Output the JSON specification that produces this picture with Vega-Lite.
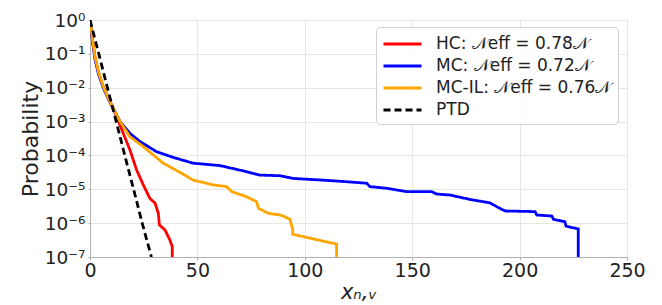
{
  "$schema": "https://vega.github.io/schema/vega-lite/v6.json",
  "width": 537,
  "height": 237,
  "autosize": {"type": "none"},
  "padding": {"left": 90, "top": 20, "right": 35, "bottom": 48},
  "background": "white",
  "config": {
    "font": "DejaVu Sans",
    "view": {"stroke": "#b0b0b0", "strokeWidth": 1}
  },
  "data": {"values": [
    {"s":"HC","i":0,"x":0,"p":1},
    {"s":"HC","i":1,"x":1.2,"p":0.25},
    {"s":"HC","i":2,"x":2.3,"p":0.08},
    {"s":"HC","i":3,"x":3.9,"p":0.029},
    {"s":"HC","i":4,"x":6.2,"p":0.0105},
    {"s":"HC","i":5,"x":8.5,"p":0.0049},
    {"s":"HC","i":6,"x":10.9,"p":0.00245},
    {"s":"HC","i":7,"x":13,"p":0.00112},
    {"s":"HC","i":8,"x":15.5,"p":0.000447},
    {"s":"HC","i":9,"x":18.6,"p":0.000145},
    {"s":"HC","i":10,"x":21.7,"p":0.0000372},
    {"s":"HC","i":11,"x":24.8,"p":0.0000135},
    {"s":"HC","i":12,"x":27.9,"p":0.00000537},
    {"s":"HC","i":13,"x":30.3,"p":0.00000389},
    {"s":"HC","i":14,"x":31.8,"p":0.00000195},
    {"s":"HC","i":15,"x":32.3,"p":0.000000891},
    {"s":"HC","i":16,"x":34.9,"p":0.000000631},
    {"s":"HC","i":17,"x":37.2,"p":0.000000316},
    {"s":"HC","i":18,"x":38.3,"p":0.0000002},
    {"s":"HC","i":19,"x":38.3,"p":0.0000001},
    {"s":"MC","i":0,"x":0,"p":1},
    {"s":"MC","i":1,"x":1.2,"p":0.22},
    {"s":"MC","i":2,"x":2.3,"p":0.071},
    {"s":"MC","i":3,"x":3.9,"p":0.026},
    {"s":"MC","i":4,"x":6.2,"p":0.0098},
    {"s":"MC","i":5,"x":8.5,"p":0.0047},
    {"s":"MC","i":6,"x":10.9,"p":0.0024},
    {"s":"MC","i":7,"x":14,"p":0.001},
    {"s":"MC","i":8,"x":18.6,"p":0.000447},
    {"s":"MC","i":9,"x":23.3,"p":0.000257},
    {"s":"MC","i":10,"x":31,"p":0.000129},
    {"s":"MC","i":11,"x":38.8,"p":0.0000871},
    {"s":"MC","i":12,"x":48.1,"p":0.0000589},
    {"s":"MC","i":13,"x":60.5,"p":0.0000501},
    {"s":"MC","i":14,"x":72.9,"p":0.0000331},
    {"s":"MC","i":15,"x":79.1,"p":0.0000263},
    {"s":"MC","i":16,"x":88.5,"p":0.0000251},
    {"s":"MC","i":17,"x":94.6,"p":0.0000209},
    {"s":"MC","i":18,"x":108.6,"p":0.0000186},
    {"s":"MC","i":19,"x":117.9,"p":0.000017},
    {"s":"MC","i":20,"x":128.8,"p":0.0000151},
    {"s":"MC","i":21,"x":130.3,"p":0.000012},
    {"s":"MC","i":22,"x":138.1,"p":0.0000107},
    {"s":"MC","i":23,"x":147.4,"p":0.00000851},
    {"s":"MC","i":24,"x":159,"p":0.00000851},
    {"s":"MC","i":25,"x":161.4,"p":0.00000724},
    {"s":"MC","i":26,"x":167.6,"p":0.00000676},
    {"s":"MC","i":27,"x":176.9,"p":0.00000501},
    {"s":"MC","i":28,"x":186.2,"p":0.00000398},
    {"s":"MC","i":29,"x":190.1,"p":0.00000288},
    {"s":"MC","i":30,"x":193.2,"p":0.00000229},
    {"s":"MC","i":31,"x":207.2,"p":0.00000219},
    {"s":"MC","i":32,"x":208,"p":0.00000174},
    {"s":"MC","i":33,"x":215,"p":0.00000162},
    {"s":"MC","i":34,"x":215.8,"p":0.00000129},
    {"s":"MC","i":35,"x":221.1,"p":0.0000011},
    {"s":"MC","i":36,"x":221.6,"p":0.000000813},
    {"s":"MC","i":37,"x":227.3,"p":0.000000676},
    {"s":"MC","i":38,"x":227.3,"p":0.0000001},
    {"s":"MC-IL","i":0,"x":0,"p":1},
    {"s":"MC-IL","i":1,"x":1.2,"p":0.257},
    {"s":"MC-IL","i":2,"x":2.3,"p":0.0832},
    {"s":"MC-IL","i":3,"x":3.9,"p":0.0295},
    {"s":"MC-IL","i":4,"x":6.2,"p":0.0107},
    {"s":"MC-IL","i":5,"x":8.5,"p":0.0049},
    {"s":"MC-IL","i":6,"x":10.9,"p":0.00245},
    {"s":"MC-IL","i":7,"x":14,"p":0.001},
    {"s":"MC-IL","i":8,"x":18.6,"p":0.000355},
    {"s":"MC-IL","i":9,"x":24.8,"p":0.000182},
    {"s":"MC-IL","i":10,"x":34.1,"p":0.0000589},
    {"s":"MC-IL","i":11,"x":41.9,"p":0.0000316},
    {"s":"MC-IL","i":12,"x":48.1,"p":0.0000186},
    {"s":"MC-IL","i":13,"x":57.4,"p":0.0000135},
    {"s":"MC-IL","i":14,"x":63.6,"p":0.000012},
    {"s":"MC-IL","i":15,"x":66,"p":0.00000851},
    {"s":"MC-IL","i":16,"x":72.9,"p":0.00000603},
    {"s":"MC-IL","i":17,"x":77.6,"p":0.00000427},
    {"s":"MC-IL","i":18,"x":78.4,"p":0.00000275},
    {"s":"MC-IL","i":19,"x":83,"p":0.00000195},
    {"s":"MC-IL","i":20,"x":88.5,"p":0.00000174},
    {"s":"MC-IL","i":21,"x":90,"p":0.00000162},
    {"s":"MC-IL","i":22,"x":93.1,"p":0.00000129},
    {"s":"MC-IL","i":23,"x":94.4,"p":0.000000631},
    {"s":"MC-IL","i":24,"x":94.4,"p":0.000000468},
    {"s":"MC-IL","i":25,"x":114.8,"p":0.00000024},
    {"s":"MC-IL","i":26,"x":114.8,"p":0.0000001},
    {"s":"PTD","i":0,"x":0,"p":1},
    {"s":"PTD","i":1,"x":4.1,"p":0.1},
    {"s":"PTD","i":2,"x":8.1,"p":0.01},
    {"s":"PTD","i":3,"x":12.2,"p":0.001},
    {"s":"PTD","i":4,"x":16.2,"p":0.0001},
    {"s":"PTD","i":5,"x":20.3,"p":0.00001},
    {"s":"PTD","i":6,"x":24.3,"p":0.000001},
    {"s":"PTD","i":7,"x":28.6,"p":0.0000001}
  ]},
  "mark": {"type": "line", "strokeWidth": 2.8, "clip": true, "interpolate": "linear"},
  "encoding": {
    "x": {
      "field": "x", "type": "quantitative",
      "scale": {"domain": [0, 250], "nice": false, "zero": false},
      "axis": {
        "values": [0, 50, 100, 150, 200, 250],
        "labelFlush": false,
        "title": "xₙ,ᵥ",
        "titleFontStyle": "italic",
        "titleFontWeight": "normal",
        "titleFontSize": 21,
        "titleColor": "#222",
        "titlePadding": 1,
        "labelFontSize": 19,
        "labelColor": "#222",
        "labelPadding": 1,
        "tickSize": 3,
        "tickColor": "#b0b0b0",
        "domainColor": "#b0b0b0",
        "gridColor": "#e3e8e3",
        "gridWidth": 1
      }
    },
    "y": {
      "field": "p", "type": "quantitative",
      "scale": {"type": "log", "domain": [0.0000001, 1], "nice": false},
      "axis": {
        "values": [1, 0.1, 0.01, 0.001, 0.0001, 0.00001, 0.000001, 0.0000001],
        "labelFlush": false,
        "labelExpr": "['10⁰','10⁻¹','10⁻²','10⁻³','10⁻⁴','10⁻⁵','10⁻⁶','10⁻⁷'][round(-log(datum.value)/LN10)]",
        "title": "Probability",
        "titleFontWeight": "normal",
        "titleFontSize": 22,
        "titleColor": "#222",
        "titlePadding": 2,
        "labelFontSize": 18.5,
        "labelColor": "#222",
        "labelPadding": 3,
        "tickSize": 2,
        "tickColor": "#b0b0b0",
        "domainColor": "#b0b0b0",
        "gridColor": "#e3e8e3",
        "gridWidth": 1
      }
    },
    "order": {"field": "i", "type": "quantitative"},
    "color": {
      "field": "s", "type": "nominal",
      "scale": {"domain": ["HC", "MC", "MC-IL", "PTD"], "range": ["#ff0000", "#0000ff", "#ffa500", "#000000"]},
      "legend": {
        "title": null,
        "orient": "none",
        "legendX": 286,
        "legendY": 7,
        "labelExpr": "{'HC':'HC: 𝒩eff = 0.78𝒩','MC':'MC: 𝒩eff = 0.72𝒩','MC-IL':'MC-IL: 𝒩eff = 0.76𝒩','PTD':'PTD'}[datum.label]",
        "labelFontSize": 17,
        "labelColor": "#222",
        "labelLimit": 400,
        "labelOffset": 32,
        "symbolType": "M-1,0H3",
        "symbolSize": 361,
        "symbolStrokeWidth": 3,
        "rowPadding": 3,
        "padding": 6,
        "fillColor": "rgba(255,255,255,0.85)",
        "strokeColor": "#d0d0d0",
        "cornerRadius": 4
      }
    },
    "strokeDash": {
      "field": "s", "type": "nominal",
      "scale": {"domain": ["HC", "MC", "MC-IL", "PTD"], "range": [[1, 0], [1, 0], [1, 0], [7, 4]]},
      "legend": {"title": null}
    }
  }
}
